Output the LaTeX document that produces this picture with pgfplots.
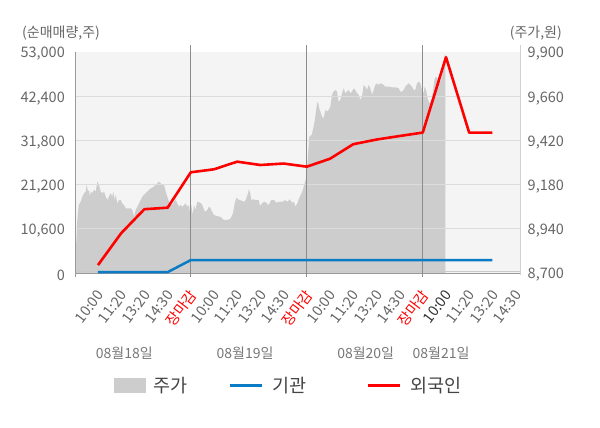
\documentclass[border=0pt]{standalone}
\usepackage{pgfplots}
\usepackage{pgfplotstable}
\pgfplotsset{compat=1.18}
\usepackage{fontspec}
\setmainfont{Noto Sans CJK KR}
\definecolor{bgcol}{HTML}{F4F4F4}
\definecolor{areacol}{HTML}{CDCDCD}
\definecolor{gridcol}{HTML}{DCDCDC}
\definecolor{vcol}{HTML}{8C8C8C}
\definecolor{tickcol}{HTML}{666666}
\definecolor{darktick}{HTML}{333333}
\definecolor{bluecol}{HTML}{0A7BC4}
\definecolor{redcol}{HTML}{FF0000}
\definecolor{datecol}{HTML}{777777}
\definecolor{legcol}{HTML}{444444}
\definecolor{axcol}{HTML}{999999}
\definecolor{raxcol}{HTML}{D0D0D0}

% price (right axis), x in chart time units (pixel-like positions)
\pgfplotstableread{
x price
76 8834
77.3 8988
78.7 9069
80.7 9087
82.3 9114
84 9133
85.7 9142
86.7 9178
88 9142
89 9151
90 9114
90.7 9142
92.3 9133
94 9151
95.7 9142
97.3 9196
99 9178
100.7 9142
102.3 9133
104 9142
105.7 9114
107.3 9096
109 9114
110.7 9133
112.3 9114
113.3 9142
114.7 9096
115.7 9124
117.3 9078
119 9096
120.7 9096
122.3 9078
124 9069
125.7 9051
127.3 9051
130.7 9051
132.3 9042
134 9006
135.7 9042
137.3 9060
139 9078
140.7 9096
142.3 9114
144 9124
145.7 9133
147.3 9142
149 9151
150.7 9160
154 9169
157.3 9187
159 9196
160.7 9187
162.3 9178
164 9178
165.7 9142
167.3 9114
169 9087
170.7 9078
172.3 9069
174 9087
175.7 9096
177.3 9078
179 9060
180.7 9069
182.3 9060
184 9069
185.7 9078
187.3 9060
189 9069
190.2 9015
191.3 9069
192.7 9015
194 9069
195.3 9042
197.3 9087
199.7 9082
201.3 9078
203 9060
204 9042
205.3 9033
207.3 9042
209 9060
210.7 9051
212 9033
214 9015
216.3 9010
219.7 9006
221.3 9002
223 8991
224.7 8988
228 8988
230.7 8997
233 9024
234.7 9078
236.3 9109
238 9100
241.3 9093
244.7 9087
246.3 9105
248 9133
249 9154
250.3 9133
251.3 9096
253 9100
256.3 9096
258.7 9096
260 9064
262 9078
264 9087
266.3 9082
268 9069
269.7 9078
271.3 9096
274 9096
276.3 9082
279.7 9087
283 9087
284.7 9096
287.3 9087
289.7 9100
292 9082
294 9087
295.3 9060
297.3 9078
299 9105
300.7 9124
302.3 9142
303.7 9169
304.7 9187
306.7 9230
308 9340
309.3 9440
311.7 9450
313.7 9495
315.3 9549
317 9621
318 9630
319.3 9594
320.3 9576
322 9549
323.7 9540
325.3 9585
327 9576
328.7 9585
330.3 9603
332 9667
333.7 9685
335.3 9694
337 9685
338.7 9630
340.3 9639
342 9676
343.7 9703
345.3 9676
347 9685
348.7 9694
350.3 9676
352 9685
353.7 9703
355.3 9694
357 9676
358.7 9667
360.3 9639
362 9658
363.7 9721
365.3 9712
367 9694
368.7 9721
370.3 9703
372 9667
373.7 9694
375.3 9721
377 9730
378.7 9721
380.3 9730
382 9726
383.7 9721
385.3 9712
388.7 9712
392 9708
395.3 9708
398.7 9703
400.3 9685
402 9685
403.7 9694
405.3 9712
407 9721
408.7 9730
410.3 9721
412 9712
413.7 9694
415.3 9694
417 9730
418.7 9739
420.3 9730
422 9694
423.7 9676
424.7 9712
426 9694
428 9639
429.3 9621
431.3 9639
432.7 9676
434.7 9757
436.3 9766
438 9748
439.3 9730
441.3 9748
442.7 9784
443.7 9838
444.7 9884
445.3 9884
}\pricetab

\pgfplotstableread{
t inst
0 200
1 200
2 200
3 200
4 3100
5 3100
6 3100
7 3100
8 3100
9 3100
10 3100
11 3100
12 3100
13 3100
14 3100
15 3100
16 3100
17 3100
}\insttab

\pgfplotstableread{
t frgn
0 1900
1 9550
2 15300
3 15660
4 24150
5 24870
6 26700
7 25900
8 26250
9 25500
10 27400
11 30880
12 32000
13 32850
14 33680
15 51750
16 33650
17 33650
}\frgntab

\begin{document}
\begin{tikzpicture}
\useasboundingbox (0pt,0pt) rectangle (600pt,428pt);
% ---------- price area (right axis)
\begin{axis}[
  at={(76pt,155pt)}, anchor=south west,
  width=444pt, height=221pt, scale only axis,
  xmin=76, xmax=520, ymin=8700, ymax=9900,
  axis x line=none, axis y line*=right,
  y axis line style={draw=none},
  major tick length=0pt,
  scaled y ticks=false,
  ytick={8700,8940,9180,9420,9660,9900},
  yticklabels={{8,700},{8,940},{9,180},{9,420},{9,660},{9,900}},
  yticklabel style={font=\fontsize{14.5}{17}\selectfont, text=tickcol, inner sep=0pt, xshift=7.5pt, yshift=-2pt, anchor=west},
]
\fill[bgcol] (rel axis cs:0,0) rectangle (rel axis cs:1,1);
\addplot[fill=areacol, draw=none] table[x=x, y=price]{\pricetab} \closedcycle;
\end{axis}
% ---------- net buying (left axis)
\begin{axis}[
  at={(76pt,155pt)}, anchor=south west,
  width=444pt, height=221pt, scale only axis,
  xmin=-0.948, xmax=18.19, ymin=0, ymax=53000,
  clip=false,
  axis line style={draw=none},
  major tick length=0pt,
  scaled y ticks=false, scaled x ticks=false,
  ytick={0,10600,21200,31800,42400,53000},
  yticklabels={0,{10,600},{21,200},{31,800},{42,400},{53,000}},
  yticklabel style={font=\fontsize{14.5}{17}\selectfont, text=tickcol, inner sep=0pt, xshift=-11pt, yshift=-2pt, anchor=east},
  xtick={0,...,18},
  xticklabels={10:00,11:20,13:20,14:30,{\color{redcol}장마감},
               10:00,11:20,13:20,14:30,{\color{redcol}장마감},
               10:00,11:20,13:20,14:30,{\color{redcol}장마감},
               {\color{darktick}10:00},11:20,13:20,14:30},
  xticklabel style={font=\fontsize{14.5}{17}\selectfont, text=tickcol, inner sep=0pt,
                    xshift=2.5pt, yshift=-19pt, rotate=53, anchor=east},
]
% horizontal grid lines
\draw[gridcol, line width=1pt] (axis cs:-0.948,10600) -- (axis cs:18.19,10600);
\draw[gridcol, line width=1pt] (axis cs:-0.948,21200) -- (axis cs:18.19,21200);
\draw[gridcol, line width=1pt] (axis cs:-0.948,31800) -- (axis cs:18.19,31800);
\draw[gridcol, line width=1pt] (axis cs:-0.948,42400) -- (axis cs:18.19,42400);
% axis lines and session-close lines
\draw[axcol, line width=1pt] ([yshift=-4pt]rel axis cs:0,0) -- (rel axis cs:0,1);
\draw[raxcol, line width=1pt] ([yshift=-2pt]rel axis cs:1,0) -- ([yshift=7pt]rel axis cs:1,1);
\draw[gridcol!80!gray, line width=1pt] ([yshift=1.5pt]rel axis cs:0,0) -- ([yshift=1.5pt]rel axis cs:1,0);
\draw[axcol, line width=1pt] ([yshift=-0.5pt]rel axis cs:0,0) -- ([yshift=-0.5pt]rel axis cs:1,0);
\draw[vcol, line width=1pt] ([yshift=-4pt]axis cs:4,0) -- ([yshift=7pt]axis cs:4,53000);
\draw[vcol, line width=1pt] ([yshift=-4pt]axis cs:9,0) -- ([yshift=7pt]axis cs:9,53000);
\draw[vcol, line width=1pt] ([yshift=-4pt]axis cs:14,0) -- ([yshift=7pt]axis cs:14,53000);
\addplot[bluecol, line width=2.5pt, line join=round] table[x=t, y=inst]{\insttab};
\addplot[redcol, line width=2.6pt, line join=round] table[x=t, y=frgn]{\frgntab};
\end{axis}
% ---------- axis titles
\node[anchor=west, inner sep=0pt, text=tickcol, font=\fontsize{14}{17}\selectfont] at (22pt,395pt) {(순매매량,주)};
\node[anchor=east, inner sep=0pt, text=tickcol, font=\fontsize{14}{17}\selectfont] at (562pt,395pt) {(주가,원)};
% ---------- dates
\node[inner sep=0pt, text=datecol, font=\fontsize{14}{17}\selectfont] at (124.3pt,75pt) {08월18일};
\node[inner sep=0pt, text=datecol, font=\fontsize{14}{17}\selectfont] at (245pt,75pt) {08월19일};
\node[inner sep=0pt, text=datecol, font=\fontsize{14}{17}\selectfont] at (365.7pt,75pt) {08월20일};
\node[inner sep=0pt, text=datecol, font=\fontsize{14}{17}\selectfont] at (441pt,75pt) {08월21일};
% ---------- legend
\fill[areacol] (114pt,35pt) rectangle (146pt,50pt);
\node[anchor=west, inner sep=0pt, text=legcol, font=\fontsize{18.5}{21}\selectfont] at (153pt,42pt) {주가};
\draw[bluecol, line width=3pt] (230pt,42pt) -- (262pt,42pt);
\node[anchor=west, inner sep=0pt, text=legcol, font=\fontsize{18.5}{21}\selectfont] at (272pt,42pt) {기관};
\draw[redcol, line width=3pt] (368pt,42pt) -- (400pt,42pt);
\node[anchor=west, inner sep=0pt, text=legcol, font=\fontsize{18.5}{21}\selectfont] at (410pt,42pt) {외국인};
\end{tikzpicture}
\end{document}
